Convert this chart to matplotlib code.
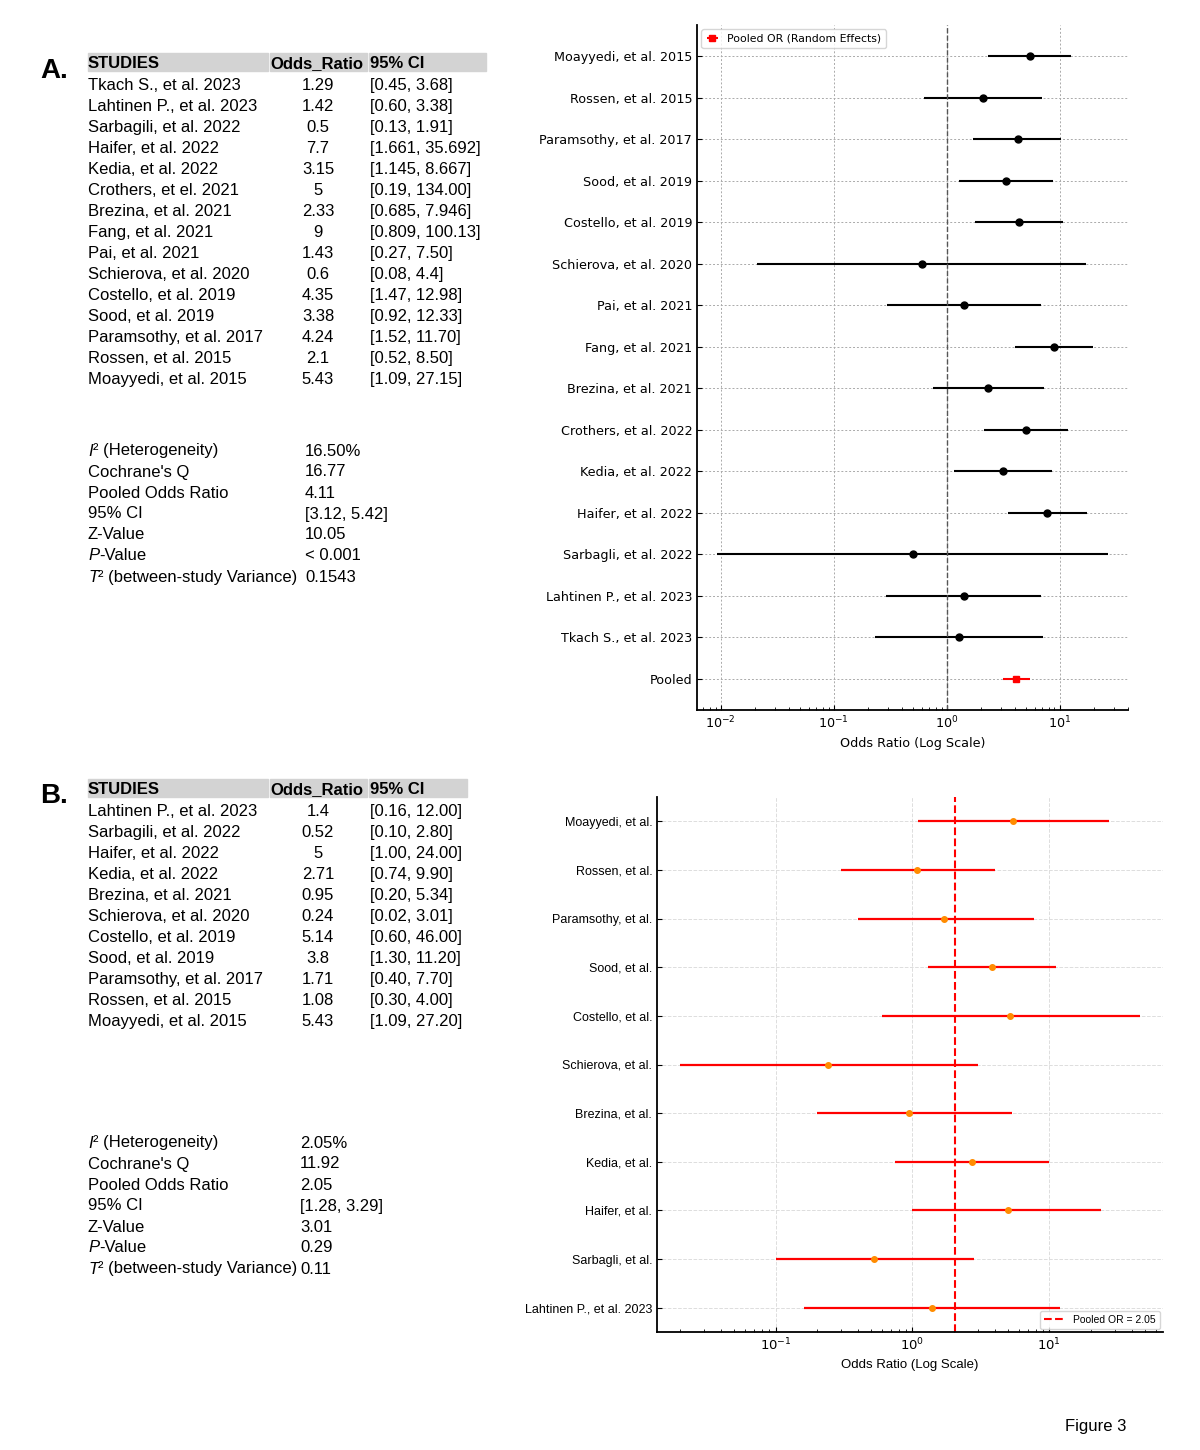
import matplotlib
matplotlib.use('Agg')
import matplotlib.pyplot as plt
import numpy as np
from matplotlib.patches import Rectangle

# ---- table A (left, top) ----
studies_a = ['Tkach S., et al. 2023', 'Lahtinen P., et al. 2023', 'Sarbagili, et al. 2022',
             'Haifer, et al. 2022', 'Kedia, et al. 2022', 'Crothers, et el. 2021',
             'Brezina, et al. 2021', 'Fang, et al. 2021', 'Pai, et al. 2021',
             'Schierova, et al. 2020', 'Costello, et al. 2019', 'Sood, et al. 2019',
             'Paramsothy, et al. 2017', 'Rossen, et al. 2015', 'Moayyedi, et al. 2015']
or_text_a = ['1.29', '1.42', '0.5', '7.7', '3.15', '5', '2.33', '9', '1.43', '0.6',
             '4.35', '3.38', '4.24', '2.1', '5.43']
ci_text_a = ['[0.45, 3.68]', '[0.60, 3.38]', '[0.13, 1.91]', '[1.661, 35.692]',
             '[1.145, 8.667]', '[0.19, 134.00]', '[0.685, 7.946]', '[0.809, 100.13]',
             '[0.27, 7.50]', '[0.08, 4.4]', '[1.47, 12.98]', '[0.92, 12.33]',
             '[1.52, 11.70]', '[0.52, 8.50]', '[1.09, 27.15]']
stats_labels_a = [[('I', 'italic'), ('\u00b2 (Heterogeneity)', 'normal')],
                  [("Cochrane's Q", 'normal')],
                  [('Pooled Odds Ratio', 'normal')],
                  [('95% CI', 'normal')],
                  [('Z-Value', 'normal')],
                  [('P', 'italic'), ('-Value', 'normal')],
                  [('T', 'italic'), ('\u00b2 (between-study Variance)', 'normal')]]
stats_values_a = ['16.50%', '16.77', '4.11', '[3.12, 5.42]', '10.05', '< 0.001', '0.1543']

# ---- forest plot A (values as drawn, bottom -> top after Pooled) ----
plot_labels_a = ['Tkach S., et al. 2023', 'Lahtinen P., et al. 2023', 'Sarbagli, et al. 2022',
                 'Haifer, et al. 2022', 'Kedia, et al. 2022', 'Crothers, et al. 2022',
                 'Brezina, et al. 2021', 'Fang, et al. 2021', 'Pai, et al. 2021',
                 'Schierova, et al. 2020', 'Costello, et al. 2019', 'Sood, et al. 2019',
                 'Paramsothy, et al. 2017', 'Rossen, et al. 2015', 'Moayyedi, et al. 2015']
or_a = [1.29, 1.42, 0.5, 7.7, 3.15, 5.0, 2.33, 9.0, 1.43, 0.6, 4.35, 3.38, 4.24, 2.1, 5.43]
lo_a = [0.234, 0.293, 0.0092, 3.46, 1.17, 2.12, 0.752, 4.02, 0.297, 0.021, 1.78, 1.29, 1.72, 0.626, 2.34]
hi_a = [7.10, 6.86, 27.0, 17.3, 8.47, 11.9, 7.25, 19.8, 6.86, 17.1, 10.6, 8.81, 10.3, 7.0, 12.6]
pooled_a = 4.11
pooled_ci_a = [3.12, 5.42]

# ---- table B / forest plot B ----
studies_b = ['Lahtinen P., et al. 2023', 'Sarbagili, et al. 2022', 'Haifer, et al. 2022',
             'Kedia, et al. 2022', 'Brezina, et al. 2021', 'Schierova, et al. 2020',
             'Costello, et al. 2019', 'Sood, et al. 2019', 'Paramsothy, et al. 2017',
             'Rossen, et al. 2015', 'Moayyedi, et al. 2015']
or_text_b = ['1.4', '0.52', '5', '2.71', '0.95', '0.24', '5.14', '3.8', '1.71', '1.08', '5.43']
or_b = [1.4, 0.52, 5.0, 2.71, 0.95, 0.24, 5.14, 3.8, 1.71, 1.08, 5.43]
lo_b = [0.16, 0.10, 1.00, 0.74, 0.20, 0.02, 0.60, 1.30, 0.40, 0.30, 1.09]
hi_b = [12.00, 2.80, 24.00, 9.90, 5.34, 3.01, 46.00, 11.20, 7.70, 4.00, 27.20]
plot_labels_b = ['Lahtinen P., et al. 2023', 'Sarbagli, et al.', 'Haifer, et al.', 'Kedia, et al.',
                 'Brezina, et al.', 'Schierova, et al.', 'Costello, et al.', 'Sood, et al.',
                 'Paramsothy, et al.', 'Rossen, et al.', 'Moayyedi, et al.']
stats_values_b = ['2.05%', '11.92', '2.05', '[1.28, 3.29]', '3.01', '0.29', '0.11']
pooled_b = 2.05

W, H = 1200, 1450
fig = plt.figure(figsize=(12, 14.5), dpi=100)
TFONT = ['Liberation Sans', 'DejaVu Sans']
NARROW = ['Liberation Sans Narrow', 'Liberation Sans', 'DejaVu Sans']


def fx(x):
    return x / W


def fy(y):
    return 1 - y / H


def put(x, y, s, **kw):
    # +2 px: Liberation's centre sits a little high compared with the scan
    return fig.text(fx(x), fy(y + 2), s, va='center', family=TFONT, fontsize=12, **kw)


def put_parts(x, y, parts):
    renderer = fig.canvas.get_renderer()
    cur = x
    for s, style in parts:
        t = put(cur, y, s, style=style)
        bb = t.get_window_extent(renderer=renderer)
        cur = bb.x1


def table(y_head, right_edge, studies, or_text, ci_text, row_step=21.05):
    for x0, x1 in [(88, 268), (270, 367), (369, right_edge)]:
        fig.patches.append(Rectangle((fx(x0), fy(y_head + 9)), fx(x1 - x0), 18 / H,
                                     transform=fig.transFigure, color='#d3d3d3', zorder=0))
    put(88, y_head, 'STUDIES', weight='bold')
    put(270, y_head, 'Odds_Ratio', weight='bold')
    put(370, y_head, '95% CI', weight='bold')
    for i in range(len(studies)):
        y = y_head + row_step * (i + 1)
        put(88, y, studies[i])
        put(318, y, or_text[i], ha='center')
        put(370, y, ci_text[i])


def stats(y0, xv, values, row_step=21.0):
    for i in range(len(values)):
        y = y0 + row_step * i
        put_parts(88, y, stats_labels_a[i])
        put(xv, y, values[i])


fig.text(fx(40), fy(71), 'A.', fontsize=20, weight='bold', family=TFONT, va='center')
fig.text(fx(40), fy(796), 'B.', fontsize=20, weight='bold', family=TFONT, va='center')

table(62, 486, studies_a, or_text_a, ci_text_a)
stats(449, 305, stats_values_a)

ci_text_b = ['[%.2f, %.2f]' % (lo, hi) for lo, hi in zip(lo_b, hi_b)]
table(788, 467, studies_b, or_text_b, ci_text_b)
stats(1141, 300, stats_values_b)

fig.text(fx(1065), fy(1426), 'Figure 3', fontsize=12, family=TFONT, va='center')

# ---- forest plot A ----
axA = fig.add_axes([fx(697), fy(710), fx(1128 - 697), (710 - 25) / H])
ya = np.arange(1, len(or_a) + 1)
or_arr = np.array(or_a)
axA.errorbar(or_arr, ya, xerr=[or_arr - np.array(lo_a), np.array(hi_a) - or_arr],
             fmt='o', color='black', ecolor='black', elinewidth=1.5, markersize=5, capsize=0)
axA.errorbar([pooled_a], [0], xerr=[[pooled_a - pooled_ci_a[0]], [pooled_ci_a[1] - pooled_a]],
             fmt='s', color='red', ecolor='red', elinewidth=1.5, markersize=5, capsize=0,
             label='Pooled OR (Random Effects)')
axA.axvline(1, color='#555555', linestyle='--', linewidth=1)
axA.set_xscale('log')
axA.set_yticks(np.arange(0, len(or_a) + 1))
axA.set_yticklabels(['Pooled'] + plot_labels_a, fontsize=9.2)
axA.set_xlabel('Odds Ratio (Log Scale)', fontsize=9.2)
axA.tick_params(axis='both', direction='in', labelsize=9.2)
axA.tick_params(axis='x', which='minor', direction='in')
axA.grid(True, linestyle='--', color='#aaaaaa', linewidth=0.7, dashes=(2, 2))
axA.spines['top'].set_visible(False)
axA.spines['right'].set_visible(False)
axA.spines['left'].set_linewidth(1.3)
axA.spines['bottom'].set_linewidth(1.3)
axA.legend(loc='upper left', fontsize=7.8, handlelength=1.2, borderaxespad=0.4)

# ---- forest plot B ----
axB = fig.add_axes([fx(657), fy(1332), fx(1163 - 657), (1332 - 797) / H])
yb = np.arange(len(or_b))
orb = np.array(or_b)
axB.errorbar(orb, yb, xerr=[orb - np.array(lo_b), np.array(hi_b) - orb],
             fmt='o', color='darkorange', ecolor='red', elinewidth=1.6, markersize=4, capsize=0)
axB.axvline(pooled_b, color='red', linestyle='--', linewidth=1.5,
            label='Pooled OR = %.2f' % pooled_b)
axB.set_xscale('log')
axB.set_yticks(yb)
axB.set_yticklabels(plot_labels_b, fontsize=9, family=NARROW)
axB.set_xlabel('Odds Ratio (Log Scale)', fontsize=9.5, family=NARROW)
for lab in axB.get_xticklabels():
    lab.set_fontsize(9.5)
axB.tick_params(axis='both', direction='in')
axB.tick_params(axis='x', which='minor', direction='in')
axB.grid(True, linestyle='--', color='#dddddd', linewidth=0.7)
axB.spines['top'].set_visible(False)
axB.spines['right'].set_visible(False)
axB.spines['left'].set_linewidth(1.3)
axB.spines['bottom'].set_linewidth(1.3)
axB.legend(loc='lower right', prop={'family': NARROW, 'size': 7.5}, handlelength=2,
           borderaxespad=0.3)

fig.savefig('out.png', dpi=100)
